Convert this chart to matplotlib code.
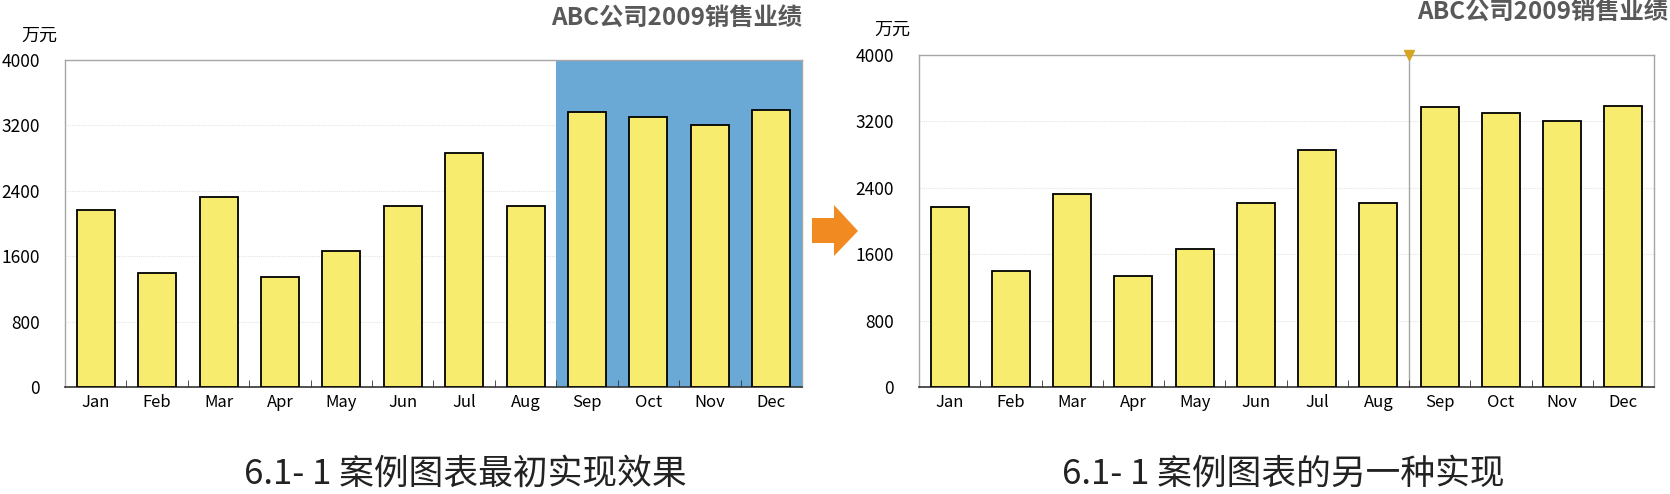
import matplotlib
matplotlib.use("Agg")
import matplotlib.pyplot as plt
from matplotlib.patches import Polygon
import numpy as np

plt.rcParams['font.family'] = ['Noto Sans CJK SC', 'DejaVu Sans']

months = ["Jan", "Feb", "Mar", "Apr", "May", "Jun", "Jul", "Aug", "Sep", "Oct", "Nov", "Dec"]
sales = [2170, 1400, 2320, 1340, 1660, 2220, 2860, 2220, 3370, 3305, 3200, 3385]
yticks = [0, 800, 1600, 2400, 3200, 4000]
title = "ABC公司2009销售业绩"
unit = "万元"
captions = ["6.1- 1 案例图表最初实现效果", "6.1- 1 案例图表的另一种实现"]

BAR = "#F7EC6E"
BLUE = "#6AA8D5"
GRID = "#E4E4E4"
SPINE = "#A6A6A6"

fig = plt.figure(figsize=(16.7, 4.94), dpi=100)
axL = fig.add_axes([65/1670, 107/494, 737/1670, 327/494])
axR = fig.add_axes([919/1670, 107/494, 735/1670, 332/494])

x = np.arange(len(months))
for ax in (axL, axR):
    ax.set_xlim(-0.5, 11.5)
    ax.set_ylim(0, 4000)
    ax.set_yticks(yticks)
    ax.set_yticklabels([str(v) for v in yticks], fontsize=12.5)
    ax.set_xticks(x)
    ax.set_xticklabels(months, fontsize=12)
    ax.set_xticks(np.arange(-0.5, 12, 1), minor=True)
    ax.tick_params(axis='x', which='major', length=0, pad=5)
    ax.tick_params(axis='x', which='minor', length=5, direction='in', color='#333333')
    ax.tick_params(axis='y', length=0, pad=18)
    for yv in yticks[1:-1]:
        ax.axhline(yv, color=GRID, lw=0.8, ls=(0, (1, 1)), zorder=0)
    for s in ('left', 'top', 'right'):
        ax.spines[s].set_color(SPINE)
        ax.spines[s].set_linewidth(1.0)
    ax.spines['bottom'].set_color('#333333')
    ax.spines['bottom'].set_linewidth(1.2)

# Left chart highlight band
axL.axvspan(7.5, 11.5, color=BLUE, zorder=1, lw=0)
axL.bar(x, sales, width=0.62, color=BAR, edgecolor='black', linewidth=1.3, zorder=3)
axR.axvline(7.5, color=SPINE, lw=1.0, zorder=1)
axR.plot([7.5], [4000], marker='v', color='#D6A521', markersize=7, clip_on=False, zorder=5)
axR.bar(x, sales, width=0.62, color=BAR, edgecolor='black', linewidth=1.3, zorder=3)

# titles and unit labels
fig.text(802/1670, 1 - 18/494, title, ha='right', va='center', fontsize=17.5,
         fontweight='bold', color='#595959')
fig.text(1668/1670, 1 - 12/494, title, ha='right', va='center', fontsize=17.5,
         fontweight='bold', color='#595959')
fig.text(39/1670, 1 - 36/494, unit, ha='center', va='center', fontsize=13, color='black')
fig.text(892/1670, 1 - 30/494, unit, ha='center', va='center', fontsize=13, color='black')

# captions
fig.text(465/1670, 1 - 474/494, captions[0], ha='center', va='center', fontsize=25,
         color='#222222', fontweight='light')
fig.text(1283/1670, 1 - 474/494, captions[1], ha='center', va='center', fontsize=25,
         color='#222222', fontweight='light')

# orange arrow
pts = [(812, 218), (834, 218), (834, 205), (858, 231), (834, 256), (834, 243), (812, 243)]
poly = Polygon([(px/1670, 1 - py/494) for px, py in pts], closed=True,
               transform=fig.transFigure, color='#F28A22', lw=0)
fig.patches.append(poly)

fig.savefig("out.png", dpi=100)
